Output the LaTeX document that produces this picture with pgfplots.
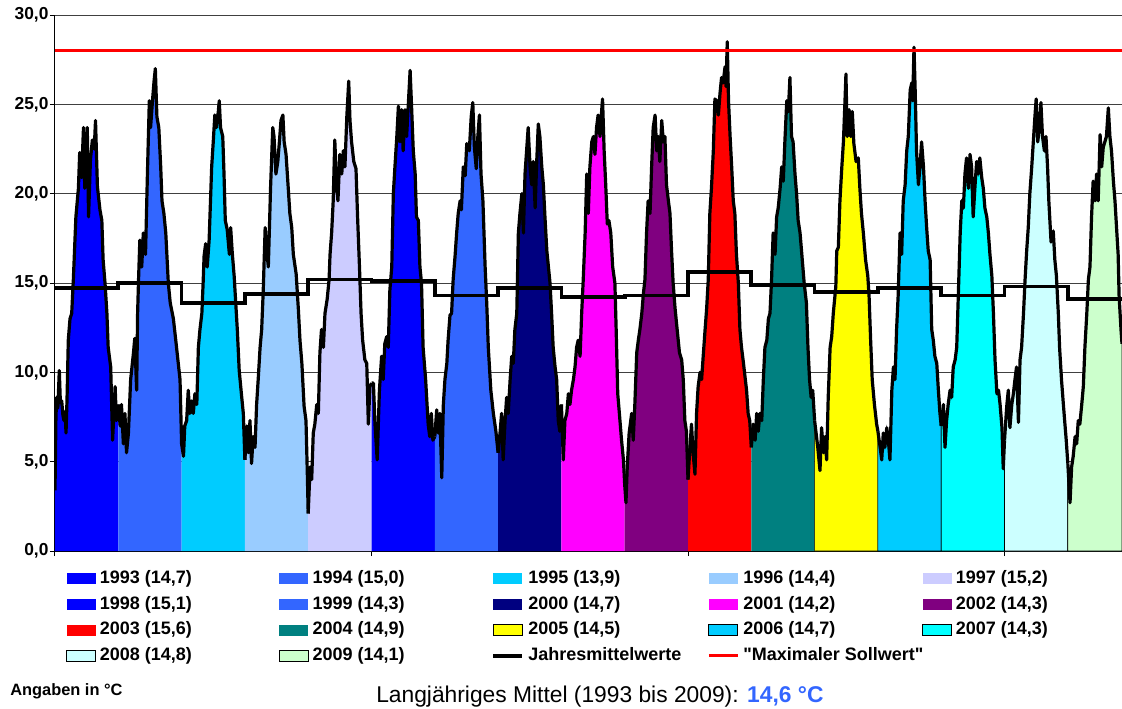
\documentclass[border=0pt]{standalone}
\usepackage{fontspec}
\setmainfont{Liberation Sans}[Ligatures=TeXOff]
\usepackage{pgfplots}
\usepackage{pgfplotstable}
\pgfplotsset{compat=1.18}

\definecolor{c93}{HTML}{0000FF}
\definecolor{c94}{HTML}{3366FF}
\definecolor{c95}{HTML}{00CCFF}
\definecolor{c96}{HTML}{99CCFF}
\definecolor{c97}{HTML}{CCCCFF}
\definecolor{c98}{HTML}{0000FF}
\definecolor{c99}{HTML}{3366FF}
\definecolor{c00}{HTML}{000080}
\definecolor{c01}{HTML}{FF00FF}
\definecolor{c02}{HTML}{800080}
\definecolor{c03}{HTML}{FF0000}
\definecolor{c04}{HTML}{008080}
\definecolor{c05}{HTML}{FFFF00}
\definecolor{c06}{HTML}{00CCFF}
\definecolor{c07}{HTML}{00FFFF}
\definecolor{c08}{HTML}{CCFFFF}
\definecolor{c09}{HTML}{CCFFCC}

% daily values, f = fraction of the year, T = temperature
\pgfplotstableread{
f T
0.000 3.4
0.015 7.5
0.027 8.6
0.045 8.0
0.068 10.1
0.085 8.3
0.106 8.4
0.125 7.6
0.142 7.3
0.160 7.8
0.174 6.6
0.190 8.5
0.210 11.8
0.237 13.0
0.264 13.3
0.290 15.2
0.330 18.7
0.370 20.3
0.390 22.3
0.420 20.9
0.450 23.7
0.470 20.3
0.510 23.7
0.530 18.7
0.560 21.9
0.590 23.0
0.620 22.5
0.640 24.1
0.670 20.4
0.710 19.1
0.740 18.5
0.760 16.3
0.790 15.0
0.820 13.3
0.840 11.4
0.880 10.3
0.910 6.2
0.950 9.2
0.970 7.3
1.000 8.2
}\ya
\pgfplotstableread{
f T
0.000 8.2
0.030 7.0
0.050 8.2
0.080 6.0
0.105 7.7
0.130 5.5
0.160 6.6
0.195 9.6
0.240 11.1
0.260 11.9
0.290 9.0
0.305 13.3
0.320 15.2
0.340 17.4
0.370 15.9
0.395 17.8
0.430 16.6
0.460 21.1
0.490 25.2
0.510 23.7
0.540 25.2
0.565 26.3
0.585 27.0
0.610 24.3
0.640 23.7
0.670 21.5
0.690 19.6
0.720 18.9
0.750 17.8
0.790 15.0
0.820 13.9
0.870 13.0
0.920 11.4
0.975 9.6
1.000 6.0
}\yb
\pgfplotstableread{
f T
0.000 6.0
0.030 5.3
0.050 7.0
0.080 7.3
0.105 9.0
0.130 7.7
0.160 8.4
0.185 7.7
0.210 8.8
0.240 8.2
0.265 11.4
0.290 12.4
0.320 13.3
0.340 15.0
0.355 16.5
0.380 17.2
0.405 15.9
0.435 17.4
0.475 21.5
0.500 22.9
0.525 24.4
0.550 23.7
0.580 24.6
0.595 25.2
0.615 23.7
0.650 23.2
0.670 21.1
0.690 18.5
0.720 18.0
0.755 16.6
0.775 18.1
0.800 16.7
0.830 15.4
0.855 13.9
0.880 12.4
0.910 10.1
0.950 8.6
0.975 7.7
1.000 5.1
}\yc
\pgfplotstableread{
f T
0.000 5.1
0.030 7.0
0.055 5.5
0.080 7.3
0.105 4.9
0.130 6.4
0.160 5.8
0.185 8.2
0.210 9.6
0.240 11.4
0.265 12.4
0.290 14.6
0.320 18.1
0.345 16.8
0.370 15.9
0.405 20.3
0.440 23.7
0.460 23.2
0.490 21.1
0.520 21.8
0.545 22.9
0.570 24.1
0.600 24.4
0.620 22.9
0.650 22.2
0.685 20.3
0.710 18.9
0.740 18.1
0.765 16.6
0.810 15.5
0.845 13.5
0.870 11.8
0.900 10.5
0.935 8.1
0.965 7.3
0.985 4.5
1.000 2.1
}\yd
\pgfplotstableread{
f T
0.000 2.1
0.030 4.7
0.055 4.0
0.080 6.6
0.105 7.1
0.135 8.2
0.160 7.7
0.185 11.1
0.210 12.4
0.240 11.4
0.265 13.3
0.300 14.1
0.330 15.2
0.345 16.6
0.370 17.8
0.395 19.6
0.420 23.0
0.450 20.3
0.470 19.6
0.500 22.2
0.530 21.1
0.555 22.4
0.580 21.5
0.610 24.3
0.640 26.3
0.660 24.1
0.685 22.9
0.720 21.8
0.755 21.4
0.780 18.7
0.810 15.9
0.835 13.3
0.860 11.8
0.895 10.7
0.925 10.5
0.950 7.1
0.975 9.2
1.000 9.4
}\ye
\pgfplotstableread{
f T
0.000 9.4
0.030 9.4
0.055 7.1
0.090 5.1
0.125 9.0
0.160 10.9
0.185 9.6
0.210 11.6
0.240 12.0
0.265 11.4
0.290 14.6
0.320 15.9
0.345 20.0
0.370 21.5
0.400 23.2
0.425 24.9
0.450 22.9
0.475 24.7
0.500 22.4
0.530 24.7
0.555 23.2
0.580 24.9
0.610 26.9
0.635 24.7
0.660 22.4
0.690 21.1
0.710 18.7
0.740 18.5
0.765 15.9
0.790 15.0
0.815 11.4
0.855 9.6
0.895 7.1
0.920 6.4
0.945 7.7
0.970 6.2
1.000 6.4
}\yf
\pgfplotstableread{
f T
0.000 6.4
0.030 7.9
0.055 6.6
0.080 7.7
0.110 4.1
0.135 8.2
0.160 9.6
0.190 10.5
0.210 11.8
0.240 13.2
0.265 13.3
0.290 15.2
0.320 16.5
0.345 17.8
0.370 18.9
0.400 19.6
0.420 19.1
0.450 21.5
0.480 21.0
0.505 22.8
0.545 22.4
0.575 24.3
0.600 25.1
0.625 22.6
0.655 21.4
0.680 23.2
0.705 24.4
0.730 21.1
0.760 19.6
0.795 15.9
0.820 13.9
0.845 11.4
0.885 9.0
0.925 7.7
0.965 6.7
1.000 5.5
}\yg
\pgfplotstableread{
f T
0.000 5.5
0.030 6.6
0.055 7.7
0.080 5.1
0.110 7.3
0.135 8.6
0.160 7.7
0.190 9.6
0.215 10.9
0.240 10.5
0.265 12.4
0.295 13.3
0.320 17.8
0.345 18.9
0.375 20.0
0.400 17.8
0.425 21.1
0.450 22.4
0.475 23.7
0.505 21.5
0.530 20.5
0.555 21.8
0.585 19.2
0.610 21.8
0.635 23.9
0.660 23.2
0.690 21.5
0.715 20.5
0.740 18.7
0.770 16.8
0.820 15.0
0.845 13.3
0.870 11.4
0.900 10.3
0.925 9.6
0.950 7.3
0.975 6.7
1.000 8.2
}\yh
\pgfplotstableread{
f T
0.000 8.2
0.030 5.1
0.055 7.3
0.085 7.7
0.110 8.8
0.135 8.2
0.160 9.0
0.190 9.6
0.215 10.3
0.240 11.4
0.265 11.8
0.295 10.9
0.320 13.3
0.345 15.2
0.375 17.8
0.400 21.1
0.425 18.9
0.450 21.5
0.480 22.9
0.505 23.2
0.530 22.2
0.555 23.7
0.580 24.4
0.610 23.2
0.635 24.6
0.650 25.3
0.675 22.4
0.700 20.5
0.725 18.3
0.750 18.5
0.780 17.8
0.810 15.9
0.845 15.0
0.865 12.4
0.890 8.8
0.925 7.3
0.950 6.2
0.980 5.1
1.000 3.7
}\yi
\pgfplotstableread{
f T
0.000 3.7
0.020 2.7
0.040 4.7
0.070 6.6
0.110 7.7
0.135 6.2
0.160 8.2
0.190 11.1
0.215 11.8
0.240 12.4
0.270 13.3
0.295 14.4
0.320 15.2
0.345 17.8
0.370 19.6
0.400 18.9
0.425 21.5
0.450 23.7
0.480 24.4
0.505 22.4
0.530 23.2
0.555 21.8
0.585 24.1
0.610 22.9
0.635 23.2
0.660 20.5
0.690 19.6
0.715 18.9
0.740 16.8
0.765 15.0
0.795 13.6
0.820 12.7
0.865 11.1
0.900 10.7
0.925 9.6
0.950 7.3
0.975 6.7
1.000 4.0
}\yj
\pgfplotstableread{
f T
0.000 4.0
0.030 5.8
0.055 7.1
0.080 5.5
0.110 4.3
0.135 7.7
0.160 9.2
0.190 10.0
0.215 9.6
0.240 10.9
0.270 12.4
0.295 13.6
0.320 15.2
0.345 18.9
0.370 20.3
0.400 22.4
0.425 25.3
0.450 25.2
0.480 24.4
0.505 25.6
0.530 26.5
0.555 26.2
0.585 27.1
0.600 26.0
0.620 28.5
0.640 25.2
0.665 23.2
0.690 21.5
0.715 19.6
0.740 18.9
0.765 16.6
0.795 15.0
0.820 12.4
0.845 11.4
0.870 10.7
0.925 9.0
0.950 7.7
0.975 7.3
1.000 5.8
}\yk
\pgfplotstableread{
f T
0.000 5.8
0.030 7.1
0.060 6.2
0.085 7.7
0.110 6.7
0.135 7.7
0.165 7.3
0.190 9.6
0.215 11.4
0.245 11.8
0.270 13.0
0.295 13.3
0.320 15.2
0.345 17.8
0.375 16.6
0.400 18.7
0.425 19.2
0.455 20.3
0.480 21.5
0.505 20.7
0.530 22.9
0.560 25.2
0.585 24.6
0.610 26.5
0.635 23.2
0.660 22.9
0.690 21.1
0.715 20.0
0.740 18.5
0.770 17.8
0.805 16.3
0.835 15.0
0.870 13.9
0.895 11.4
0.920 9.6
0.945 8.6
0.970 9.0
1.000 7.3
}\yl
\pgfplotstableread{
f T
0.000 7.3
0.050 5.8
0.085 4.5
0.110 6.9
0.140 5.5
0.165 6.4
0.190 5.1
0.215 8.6
0.245 11.4
0.270 12.0
0.295 13.3
0.335 14.8
0.350 16.8
0.375 17.0
0.400 19.6
0.430 21.5
0.455 22.9
0.480 25.2
0.495 26.7
0.515 23.2
0.545 24.7
0.570 23.2
0.595 24.6
0.620 22.8
0.655 21.8
0.690 22.0
0.715 20.3
0.740 18.9
0.770 17.8
0.805 16.3
0.840 15.4
0.860 14.3
0.885 11.8
0.910 9.6
0.945 8.2
0.980 7.1
1.000 6.7
}\ym
\pgfplotstableread{
f T
0.000 6.7
0.035 5.8
0.060 5.1
0.085 6.6
0.110 5.8
0.140 6.9
0.165 6.2
0.190 5.1
0.220 9.0
0.245 10.3
0.270 9.6
0.295 12.4
0.320 14.3
0.350 17.8
0.375 16.6
0.400 19.6
0.430 20.5
0.455 22.4
0.480 23.2
0.510 25.8
0.535 26.2
0.550 25.2
0.570 28.2
0.590 25.6
0.610 22.4
0.640 20.5
0.665 21.5
0.690 22.9
0.720 21.5
0.745 19.6
0.770 18.1
0.795 16.8
0.825 16.3
0.850 12.4
0.875 11.8
0.900 10.9
0.930 10.5
0.955 9.0
0.980 7.7
1.000 7.0
}\yn
\pgfplotstableread{
f T
0.000 7.0
0.035 8.2
0.060 5.8
0.085 7.3
0.110 8.2
0.140 9.0
0.165 8.6
0.190 10.3
0.220 10.7
0.245 11.4
0.270 14.3
0.300 17.8
0.325 19.6
0.350 19.2
0.375 21.1
0.400 22.0
0.430 20.3
0.455 22.2
0.480 21.5
0.505 18.7
0.535 20.5
0.560 21.8
0.585 21.1
0.610 22.0
0.640 20.9
0.665 20.3
0.690 19.2
0.720 18.7
0.745 17.8
0.770 16.6
0.800 15.4
0.825 13.3
0.850 10.7
0.880 8.8
0.905 9.0
0.930 8.2
0.960 6.9
0.980 4.6
1.000 6.2
}\yo
\pgfplotstableread{
f T
0.000 6.2
0.035 8.1
0.060 9.0
0.085 6.9
0.115 8.2
0.140 8.8
0.165 9.6
0.190 10.3
0.220 7.2
0.245 10.7
0.270 11.4
0.300 13.3
0.325 15.2
0.350 16.8
0.375 18.1
0.400 20.0
0.430 21.5
0.455 22.9
0.480 24.3
0.500 25.3
0.525 22.9
0.550 23.7
0.575 25.1
0.600 23.2
0.630 22.4
0.655 23.2
0.680 21.5
0.700 19.6
0.735 17.3
0.770 17.9
0.795 16.3
0.820 15.4
0.850 13.3
0.870 11.4
0.900 9.6
0.930 8.2
0.950 7.3
0.975 6.2
1.000 4.9
}\yp
\pgfplotstableread{
f T
0.000 4.9
0.035 2.7
0.060 4.7
0.085 5.3
0.115 6.4
0.140 6.0
0.165 7.3
0.190 7.1
0.220 8.2
0.245 9.2
0.270 11.4
0.300 13.3
0.325 15.2
0.350 15.9
0.375 18.7
0.400 20.7
0.430 19.6
0.455 21.1
0.480 19.6
0.510 23.3
0.535 21.5
0.560 22.6
0.585 22.9
0.610 23.2
0.640 24.8
0.665 23.2
0.690 22.4
0.720 20.7
0.745 19.6
0.770 18.1
0.795 16.6
0.810 14.3
0.840 12.4
0.856 11.6
}\yq

\pgfplotsset{
  tline/.style={black, line width=2.4pt, line join=round, forget plot},
  yfill/.style={draw=none},
  yfillb/.style={draw=black, line width=0.5pt},
}
\newcommand{\lt}[1]{\makebox[137.25pt][l]{\hspace{3pt}#1}}

\begin{document}
\begin{tikzpicture}
\begin{axis}[
  width=800.25pt, height=402pt, scale only axis,
  xmin=0, xmax=16.856, ymin=0, ymax=30,
  axis x line*=bottom, axis y line*=left,
  axis line style={black, line width=0.75pt},
  xtick={0,5,10,15}, xticklabels={},
  ytick={0,5,...,30},
  tick align=outside, major tick length=3.75pt,
  tick style={black, line width=0.75pt},
  ymajorgrids, grid style={black!75, line width=0.75pt},
  yticklabel style={font=\bfseries\fontsize{13}{15}\selectfont, inner sep=1pt,
    /pgf/number format/.cd, fixed, fixed zerofill, precision=1, use comma, assume math mode=true},
  legend columns=5,
  legend cell align=left,
  legend image code/.code={\path[#1] (0pt,-4.1pt) rectangle (21.75pt,4.1pt);},
  legend style={at={(0.01031,-0.035)}, anchor=north west, draw=none, fill=none,
    inner sep=0pt, row sep=6.3pt, column sep=0pt,
    nodes={inner sep=0pt, text height=10pt, text depth=3pt, font=\bfseries\fontsize{13.5}{16}\selectfont}},
]
% coloured areas, one per year
\addplot[yfill, fill=c93] table[x expr=\thisrow{f}+0, y=T] {\ya} \closedcycle;
\addlegendentry{\lt{1993 (14,7)}}
\addplot[yfill, fill=c94] table[x expr=\thisrow{f}+1, y=T] {\yb} \closedcycle;
\addlegendentry{\lt{1994 (15,0)}}
\addplot[yfill, fill=c95] table[x expr=\thisrow{f}+2, y=T] {\yc} \closedcycle;
\addlegendentry{\lt{1995 (13,9)}}
\addplot[yfill, fill=c96] table[x expr=\thisrow{f}+3, y=T] {\yd} \closedcycle;
\addlegendentry{\lt{1996 (14,4)}}
\addplot[yfill, fill=c97] table[x expr=\thisrow{f}+4, y=T] {\ye} \closedcycle;
\addlegendentry{\lt{1997 (15,2)}}
\addplot[yfill, fill=c98] table[x expr=\thisrow{f}+5, y=T] {\yf} \closedcycle;
\addlegendentry{\lt{1998 (15,1)}}
\addplot[yfill, fill=c99] table[x expr=\thisrow{f}+6, y=T] {\yg} \closedcycle;
\addlegendentry{\lt{1999 (14,3)}}
\addplot[yfill, fill=c00] table[x expr=\thisrow{f}+7, y=T] {\yh} \closedcycle;
\addlegendentry{\lt{2000 (14,7)}}
\addplot[yfill, fill=c01] table[x expr=\thisrow{f}+8, y=T] {\yi} \closedcycle;
\addlegendentry{\lt{2001 (14,2)}}
\addplot[yfill, fill=c02] table[x expr=\thisrow{f}+9, y=T] {\yj} \closedcycle;
\addlegendentry{\lt{2002 (14,3)}}
\addplot[yfill, fill=c03] table[x expr=\thisrow{f}+10, y=T] {\yk} \closedcycle;
\addlegendentry{\lt{2003 (15,6)}}
\addplot[yfill, fill=c04] table[x expr=\thisrow{f}+11, y=T] {\yl} \closedcycle;
\addlegendentry{\lt{2004 (14,9)}}
\addplot[yfillb, fill=c05] table[x expr=\thisrow{f}+12, y=T] {\ym} \closedcycle;
\addlegendentry{\lt{2005 (14,5)}}
\addplot[yfillb, fill=c06] table[x expr=\thisrow{f}+13, y=T] {\yn} \closedcycle;
\addlegendentry{\lt{2006 (14,7)}}
\addplot[yfillb, fill=c07] table[x expr=\thisrow{f}+14, y=T] {\yo} \closedcycle;
\addlegendentry{\lt{2007 (14,3)}}
\addplot[yfillb, fill=c08] table[x expr=\thisrow{f}+15, y=T] {\yp} \closedcycle;
\addlegendentry{\lt{2008 (14,8)}}
\addplot[yfillb, fill=c09] table[x expr=\thisrow{f}+16, y=T] {\yq} \closedcycle;
\addlegendentry{\lt{2009 (14,1)}}

% daily curve on top
\addplot[tline] table[x expr=\thisrow{f}+0, y=T] {\ya};
\addplot[tline] table[x expr=\thisrow{f}+1, y=T] {\yb};
\addplot[tline] table[x expr=\thisrow{f}+2, y=T] {\yc};
\addplot[tline] table[x expr=\thisrow{f}+3, y=T] {\yd};
\addplot[tline] table[x expr=\thisrow{f}+4, y=T] {\ye};
\addplot[tline] table[x expr=\thisrow{f}+5, y=T] {\yf};
\addplot[tline] table[x expr=\thisrow{f}+6, y=T] {\yg};
\addplot[tline] table[x expr=\thisrow{f}+7, y=T] {\yh};
\addplot[tline] table[x expr=\thisrow{f}+8, y=T] {\yi};
\addplot[tline] table[x expr=\thisrow{f}+9, y=T] {\yj};
\addplot[tline] table[x expr=\thisrow{f}+10, y=T] {\yk};
\addplot[tline] table[x expr=\thisrow{f}+11, y=T] {\yl};
\addplot[tline] table[x expr=\thisrow{f}+12, y=T] {\ym};
\addplot[tline] table[x expr=\thisrow{f}+13, y=T] {\yn};
\addplot[tline] table[x expr=\thisrow{f}+14, y=T] {\yo};
\addplot[tline] table[x expr=\thisrow{f}+15, y=T] {\yp};
\addplot[tline] table[x expr=\thisrow{f}+16, y=T] {\yq};

% yearly means
\addplot[const plot, black, line width=2.8pt,
  legend image code/.code={\draw[black, line width=2.8pt] (0pt,0pt) -- (21.75pt,0pt);}]
  coordinates {(0,14.7) (1,15.0) (2,13.9) (3,14.4) (4,15.2) (5,15.1) (6,14.3) (7,14.7)
    (8,14.2) (9,14.3) (10,15.6) (11,14.9) (12,14.5) (13,14.7) (14,14.3) (15,14.8)
    (16,14.1) (16.856,14.1)};
\addlegendentry{\lt{Jahresmittelwerte}}

% upper set point
\addplot[red, line width=2.2pt,
  legend image code/.code={\draw[red, line width=2.2pt] (0pt,0pt) -- (21.75pt,0pt);}]
  coordinates {(0,28) (16.856,28)};
\addlegendentry{\lt{"Maximaler Sollwert"}}
\end{axis}

\node[anchor=base west, inner sep=0pt, font=\bfseries\fontsize{12.3}{14}\selectfont]
  at (-33.75pt,-108pt) {Angaben in °C};
\node[anchor=base west, inner sep=0pt, font=\fontsize{17.1}{20}\selectfont]
  at (240.75pt,-113.25pt) {Langjähriges Mittel (1993 bis 2009): \textcolor{c94}{\bfseries 14,6 °C}};

\pgfresetboundingbox
\path[use as bounding box] (-41.25pt,-117.75pt) rectangle (800.25pt,413.25pt);
\end{tikzpicture}
\end{document}
